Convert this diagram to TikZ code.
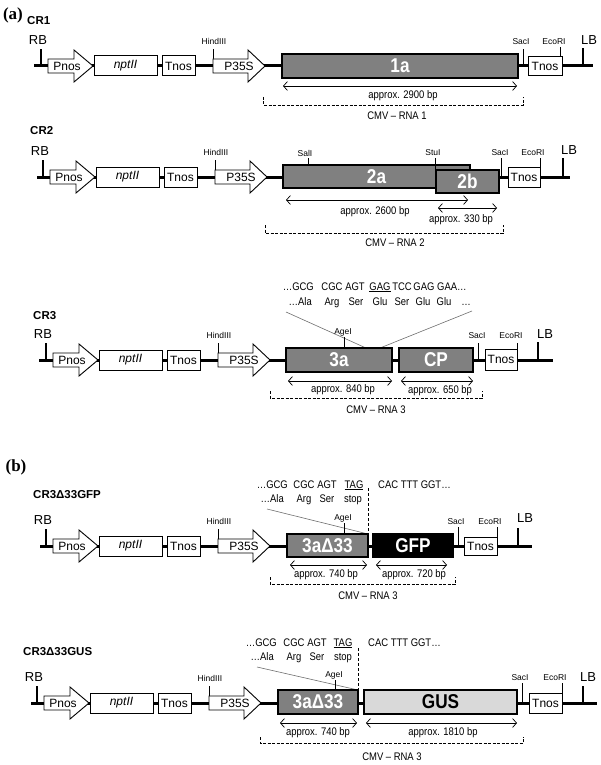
\documentclass[tikz,border=0pt]{standalone}
\usepackage{fontspec}
\setmainfont{Liberation Sans}
\newfontfamily\narrowf[FakeStretch=0.86]{Liberation Sans}
\newfontfamily\serifb{Liberation Serif}
\usetikzlibrary{arrows.meta}
\definecolor{boxgray}{RGB}{128,128,128}
\definecolor{lightbox}{RGB}{217,217,217}
\definecolor{seqline}{RGB}{110,110,110}
\tikzset{
  bb/.style={line width=3pt},
  rtick/.style={line width=0.8pt},
  bordertick/.style={line width=1.6pt},
  wbox/.style={draw, fill=white, line width=1pt, inner sep=0pt, font=\fontsize{12}{14}\selectfont},
  gbox/.style={draw, fill=boxgray, line width=1.8pt, inner sep=0pt, text=white, font=\narrowf\bfseries\fontsize{20}{22}\selectfont},
  prom/.style={draw, fill=white, line width=0.9pt, line join=miter},
  dim/.style={line width=0.7pt, {Straight Barb[length=4pt,width=9pt]}-{Straight Barb[length=4pt,width=9pt]}},
  brk/.style={line width=0.8pt, dash pattern=on 3pt off 1.5pt},
  vdash/.style={line width=0.8pt, dash pattern=on 3pt off 2pt},
  gline/.style={line width=0.6pt, draw=seqline},
  site/.style={font=\fontsize{8.5}{9}\selectfont, inner sep=0pt},
  lbl/.style={font=\fontsize{12}{14}\selectfont, inner sep=0pt},
  big/.style={font=\fontsize{13}{15}\selectfont, inner sep=0pt},
  sml/.style={font=\narrowf\fontsize{11}{13}\selectfont, inner sep=0pt},
  seq/.style={font=\narrowf\fontsize{11}{13}\selectfont, inner sep=0pt, anchor=base},
  seqw/.style={font=\narrowf\fontsize{11}{13}\selectfont, inner sep=0pt, anchor=base west},
  seqe/.style={font=\narrowf\fontsize{11}{13}\selectfont, inner sep=0pt, anchor=base east},
  crlab/.style={font=\bfseries\fontsize{11.5}{13}\selectfont, inner sep=0pt, anchor=west},
  panel/.style={font=\serifb\bfseries\fontsize{17}{19}\selectfont, inner sep=0pt},
}
% tick: name, x, ytop, ybottom, style
\newcommand{\mytick}[5]{\coordinate (#1b) at ({#2},{#4}); \coordinate (#1t) at ({#2},{#3}); \draw[#5] (#1b) -- (#1t);}
% promoter arrow: name, x0, y, length, head start, text dx, text
\newcommand{\promo}[7]{\draw[prom] ({#2},{#3-7}) -- ({#2+#5},{#3-7}) -- ({#2+#5},{#3-16}) -- ({#2+#4},{#3}) -- ({#2+#5},{#3+16}) -- ({#2+#5},{#3+7}) -- ({#2},{#3+7}) -- cycle; \node[lbl] (#1) at ({#2+#6},{#3}) {#7};}
% dimension arrow: name, x1, x2, y, label x, label y, text
\newcommand{\dimar}[7]{\coordinate (#1a) at ({#2},{#4}); \coordinate (#1b) at ({#3},{#4}); \draw[dim] (#1a) -- (#1b); \node[sml] (#1l) at ({#5},{#6}) {#7};}
% bracket: name, x1, x2, ytop, ybottom, label x, label y, text
\newcommand{\brkt}[8]{\coordinate (#1p) at ({#2},{#4}); \coordinate (#1q) at ({#2},{#5}); \coordinate (#1r) at ({#3},{#5}); \coordinate (#1s) at ({#3},{#4}); \draw[brk] (#1p) -- (#1q) -- (#1r) -- (#1s); \node[sml] (#1l) at ({#6},{#7}) {#8};}
% left part: prefix, x0 (Pnos start), y
\newcommand{\leftpart}[3]{%
  \mytick{#1rb}{#2-7}{#3-17}{#3}{bordertick}
  \node[big] (#1rbl) at ({#2-10},{#3-26}) {RB};
  \promo{#1pnos}{#2}{#3}{45}{26}{19}{Pnos}
  \node[wbox, minimum width=63, minimum height=20] (#1npt) at ({#2+77.5},{#3}) {\itshape nptII};
  \node[wbox, minimum width=33, minimum height=20] (#1tn) at ({#2+130.5},{#3}) {Tnos};
  \mytick{#1hd}{#2+165}{#3-17}{#3}{rtick}
  \node[site] (#1hdl) at ({#2+166},{#3-25}) {HindIII};
  \promo{#1p35}{#2+165}{#3}{52}{35}{26}{P35S}
}
\begin{document}
\begin{tikzpicture}[x=1pt,y=-1pt]
\useasboundingbox (0,0) rectangle (600,765);

% ================= CR1 =================
\node[panel] (pa) at (13,15) {(a)};
\node[crlab] (cr1) at (27,21) {CR1};
\coordinate (r1s) at (34,66); \coordinate (r1e) at (593,66);
\draw[bb] (r1s) -- (r1e);
\leftpart{r1}{48}{66}
\node[gbox, minimum width=236, minimum height=24] (r1a) at (400,66) {1a};
\mytick{r1sac}{523}{49}{66}{rtick}
\node[site] (r1sacl) at (521,42) {SacI};
\node[wbox, minimum width=34, minimum height=19] (r1t) at (545,66.5) {Tnos};
\mytick{r1eco}{560}{47}{57}{rtick}
\node[site] (r1ecol) at (554,42) {EcoRI};
\mytick{r1lb}{583}{48}{66}{bordertick}
\node[big] (r1lbl) at (589,40) {LB};
\dimar{r1d}{283}{517}{86}{403}{96}{approx. 2900 bp}
\brkt{r1k}{263}{523}{97}{105}{397}{116}{CMV – RNA 1}

% ================= CR2 =================
\node[crlab] (cr2) at (30,131) {CR2};
\coordinate (r2s) at (37,177); \coordinate (r2e) at (570,177);
\draw[bb] (r2s) -- (r2e);
\leftpart{r2}{50}{177}
\node[gbox, minimum width=187, minimum height=23] (r2a) at (376.5,176.5) {2a};
\node[gbox, minimum width=63, minimum height=23] (r2b) at (467.5,181.5) {2b};
\mytick{r2sal}{308}{158}{165}{rtick}
\node[site] (r2sall) at (305,153) {SalI};
\mytick{r2stu}{435}{158}{170}{rtick}
\node[site] (r2stul) at (433,153) {StuI};
\mytick{r2sac}{501}{158}{177}{rtick}
\node[site] (r2sacl) at (500,153) {SacI};
\node[wbox, minimum width=32, minimum height=20] (r2t) at (524,177) {Tnos};
\mytick{r2eco}{540}{158}{167}{rtick}
\node[site] (r2ecol) at (533,153) {EcoRI};
\mytick{r2lb}{563}{158}{177}{bordertick}
\node[big] (r2lbl) at (569,150) {LB};
\dimar{r2d}{286}{468}{200}{375}{212}{approx. 2600 bp}
\dimar{r2e}{438}{497}{208}{461}{220}{approx. 330 bp}
\brkt{r2k}{265}{503}{225}{233}{395}{243}{CMV – RNA 2}

% ================= CR3 =================
\node[crlab] (cr3) at (33,316) {CR3};
\node[seqe] (r3c1) at (314,290) {…GCG};
\node[seq] (r3c2) at (332,290) {CGC};
\node[seq] (r3c3) at (355,290) {AGT};
\node[seq] (r3c4) at (380,290) {\underline{GAG}};
\node[seq] (r3c5) at (402,290) {TCC};
\node[seq] (r3c6) at (424,290) {GAG};
\node[seqw] (r3c7) at (437,290) {GAA…};
\node[seqe] (r3a1) at (312,305) {…Ala};
\node[seq] (r3a2) at (332,305) {Arg};
\node[seq] (r3a3) at (356,305) {Ser};
\node[seq] (r3a4) at (380,305) {Glu};
\node[seq] (r3a5) at (402,305) {Ser};
\node[seq] (r3a6) at (423,305) {Glu};
\node[seq] (r3a7) at (444,305) {Glu};
\node[seq] (r3a8) at (466,305) {…};
\coordinate (r3g1) at (286,312); \coordinate (r3g2) at (366,348);
\coordinate (r3g3) at (472,311); \coordinate (r3g4) at (380,348);
\draw[gline] (r3g1) -- (r3g2);
\draw[gline] (r3g3) -- (r3g4);
\coordinate (r3s) at (39,360); \coordinate (r3e) at (553,360);
\draw[bb] (r3s) -- (r3e);
\leftpart{r3}{53}{360}
\node[gbox, minimum width=106, minimum height=24] (r3a) at (339,360) {3a};
\node[gbox, minimum width=74, minimum height=24] (r3cp) at (436,360) {CP};
\mytick{r3age}{344}{337}{348}{rtick}
\node[site] (r3agel) at (343,332) {AgeI};
\mytick{r3sac}{478}{343}{360}{rtick}
\node[site] (r3sacl) at (477,336) {SacI};
\node[wbox, minimum width=32, minimum height=21] (r3t) at (501,359.5) {Tnos};
\mytick{r3eco}{517}{343}{349}{rtick}
\node[site] (r3ecol) at (511,336) {EcoRI};
\mytick{r3lb}{538}{342}{360}{bordertick}
\node[big] (r3lbl) at (545,334) {LB};
\dimar{r3d}{288}{392}{381}{343}{390}{approx. 840 bp}
\dimar{r3e}{401}{473}{381}{440}{391}{approx. 650 bp}
\brkt{r3k}{270}{482}{391}{398}{376}{410}{CMV – RNA 3}

% ================= CR3d33GFP =================
\node[panel] (pb) at (16,467) {(b)};
\node[crlab] (cr4) at (33,495) {CR3Δ33GFP};
\node[seqe] (r4c1) at (288,488) {…GCG};
\node[seq] (r4c2) at (304,488) {CGC};
\node[seq] (r4c3) at (327,488) {AGT};
\node[seq] (r4c4) at (354,488) {\underline{TAG}};
\node[seqw] (r4c5) at (378,488) {CAC TTT GGT…};
\node[seqe] (r4a1) at (284,502) {…Ala};
\node[seq] (r4a2) at (304,502) {Arg};
\node[seq] (r4a3) at (327,502) {Ser};
\node[seq] (r4a4) at (353,502) {stop};
\coordinate (r4v1) at (368,488); \coordinate (r4v2) at (368,534);
\draw[vdash] (r4v1) -- (r4v2);
\coordinate (r4g1) at (267,509); \coordinate (r4g2) at (368,534);
\draw[gline] (r4g1) -- (r4g2);
\coordinate (r4s) at (40,546); \coordinate (r4e) at (532,546);
\draw[bb] (r4s) -- (r4e);
\leftpart{r4}{53}{546}
\node[gbox, minimum width=81, minimum height=23] (r4a) at (327.5,545.5) {3aΔ33};
\node[gbox, fill=black, minimum width=80, minimum height=23] (r4gfp) at (413,545.5) {GFP};
\mytick{r4age}{344}{523}{534}{rtick}
\node[site] (r4agel) at (343,518) {AgeI};
\mytick{r4sac}{458}{527}{546}{rtick}
\node[site] (r4sacl) at (456,522) {SacI};
\node[wbox, minimum width=33, minimum height=18] (r4t) at (480.5,546) {Tnos};
\mytick{r4eco}{497}{527}{537}{rtick}
\node[site] (r4ecol) at (490,522) {EcoRI};
\mytick{r4lb}{518}{528}{546}{bordertick}
\node[big] (r4lbl) at (525,518) {LB};
\dimar{r4d}{290}{367}{565}{326}{575}{approx. 740 bp}
\dimar{r4e}{376}{447}{565}{414}{575}{approx. 720 bp}
\brkt{r4k}{270}{455}{577}{584}{368}{596}{CMV – RNA 3}

% ================= CR3d33GUS =================
\node[crlab] (cr5) at (23,652) {CR3Δ33GUS};
\node[seqe] (r5c1) at (277,646) {…GCG};
\node[seq] (r5c2) at (294,646) {CGC};
\node[seq] (r5c3) at (317,646) {AGT};
\node[seq] (r5c4) at (343,646) {\underline{TAG}};
\node[seqw] (r5c5) at (368,646) {CAC TTT GGT…};
\node[seqe] (r5a1) at (274,660) {…Ala};
\node[seq] (r5a2) at (294,660) {Arg};
\node[seq] (r5a3) at (317,660) {Ser};
\node[seq] (r5a4) at (343,660) {stop};
\coordinate (r5v1) at (358,648); \coordinate (r5v2) at (358,690);
\draw[vdash] (r5v1) -- (r5v2);
\coordinate (r5g1) at (257,667); \coordinate (r5g2) at (358,690);
\draw[gline] (r5g1) -- (r5g2);
\coordinate (r5s) at (31,703); \coordinate (r5e) at (597,703);
\draw[bb] (r5s) -- (r5e);
\leftpart{r5}{44}{703}
\node[gbox, minimum width=80, minimum height=24] (r5a) at (318,702) {3aΔ33};
\node[gbox, fill=lightbox, text=black, minimum width=153, minimum height=24] (r5gus) at (440.5,702) {GUS};
\mytick{r5age}{335}{680}{690}{rtick}
\node[site] (r5agel) at (334,675) {AgeI};
\mytick{r5sac}{522}{683}{703}{rtick}
\node[site] (r5sacl) at (520,678) {SacI};
\node[wbox, minimum width=33, minimum height=20] (r5t) at (545.5,703) {Tnos};
\mytick{r5eco}{562}{683}{693}{rtick}
\node[site] (r5ecol) at (555,678) {EcoRI};
\mytick{r5lb}{583}{686}{703}{bordertick}
\node[big] (r5lbl) at (588,677) {LB};
\dimar{r5d}{280}{357}{723}{318}{733}{approx. 740 bp}
\dimar{r5e}{366}{517}{723}{443}{733}{approx. 1810 bp}
\brkt{r5k}{260}{523}{737}{743}{392}{757}{CMV – RNA 3}
\end{tikzpicture}
\end{document}
